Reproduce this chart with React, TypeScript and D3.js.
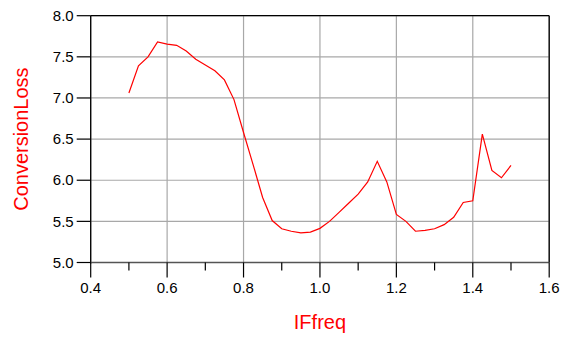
import React from "react";
import * as d3 from "d3";

const ifFreq = [
  0.5, 0.525, 0.55, 0.575, 0.6, 0.625, 0.65, 0.675, 0.7, 0.725, 0.75, 0.775,
  0.8, 0.825, 0.85, 0.875, 0.9, 0.925, 0.95, 0.975, 1.0, 1.025, 1.05, 1.075,
  1.1, 1.125, 1.15, 1.175, 1.2, 1.225, 1.25, 1.275, 1.3, 1.325, 1.35, 1.375,
  1.4, 1.425, 1.45, 1.475, 1.5,
];
const conversionLoss = [
  7.06, 7.39, 7.5, 7.68, 7.655, 7.64, 7.57, 7.47, 7.4, 7.33, 7.22, 6.98,
  6.58, 6.19, 5.79, 5.51, 5.41, 5.38, 5.36, 5.37, 5.415, 5.5, 5.61, 5.72,
  5.83, 5.98, 6.23, 5.98, 5.585, 5.5, 5.38, 5.39, 5.41, 5.46, 5.55, 5.73,
  5.75, 6.56, 6.12, 6.03, 6.18,
];
const xTicks = [0.4, 0.6, 0.8, 1.0, 1.2, 1.4, 1.6];
const xMinorTicks = [0.5, 0.7, 0.9, 1.1, 1.3, 1.5];
const yTicks = [5.0, 5.5, 6.0, 6.5, 7.0, 7.5, 8.0];

export default function App() {
  const left = 90.7, right = 549.2, top = 15.7, bottom = 262.5;
  const x = d3.scaleLinear().domain([0.4, 1.6]).range([left, right]);
  const y = d3.scaleLinear().domain([5, 8]).range([bottom, top]);
  const pts = ifFreq.map((f, i) => [f, conversionLoss[i]] as [number, number]);
  const line = d3.line<[number, number]>().x((d) => x(d[0])).y((d) => y(d[1]));
  const font = "Liberation Sans, Arial, Helvetica, sans-serif";
  return (
    <svg
      width={571}
      height={337}
      style={{ position: "absolute", left: 0, top: 0, background: "#fff" }}
      fontFamily={font}
    >
      {xTicks.map((t) => (
        <line key={"gx" + t} x1={x(t)} x2={x(t)} y1={top} y2={bottom} stroke="#a8a8a8" strokeWidth={1.2} />
      ))}
      {yTicks.map((t) => (
        <line key={"gy" + t} x1={left} x2={right} y1={y(t)} y2={y(t)} stroke="#a8a8a8" strokeWidth={1.2} />
      ))}
      <line x1={left} x2={right} y1={top} y2={top} stroke="#000" strokeWidth={1.3} />
      <line x1={right} x2={right} y1={top} y2={bottom} stroke="#000" strokeWidth={1.3} />
      <line x1={left} x2={left} y1={top} y2={bottom + 1} stroke="#000" strokeWidth={1.3} />
      <line x1={left} x2={right} y1={bottom} y2={bottom} stroke="#555" strokeWidth={1.5} />
      {yTicks.map((t) => (
        <g key={"yt" + t}>
          <line x1={left - 14} x2={left} y1={y(t)} y2={y(t)} stroke="#000" strokeWidth={1.2} />
          <text x={left - 17} y={y(t)} dy="0.35em" textAnchor="end" fontSize={15} fill="#000">
            {t.toFixed(1)}
          </text>
        </g>
      ))}
      {xTicks.map((t) => (
        <g key={"xt" + t}>
          <line x1={x(t)} x2={x(t)} y1={bottom} y2={bottom + 15} stroke="#000" strokeWidth={1.2} />
          <text x={x(t)} y={293} textAnchor="middle" fontSize={15} fill="#000">
            {t.toFixed(1)}
          </text>
        </g>
      ))}
      {xMinorTicks.map((t) => (
        <line key={"xm" + t} x1={x(t)} x2={x(t)} y1={bottom} y2={bottom + 8} stroke="#000" strokeWidth={1.2} />
      ))}
      <path d={line(pts) || ""} fill="none" stroke="#ff0000" strokeWidth={1.2} />
      <text x={(left + right) / 2} y={329} textAnchor="middle" fontSize={20} fill="#ff0000">
        IFfreq
      </text>
      <text
        transform={`translate(27.5,${(top + bottom) / 2}) rotate(-90)`}
        textAnchor="middle"
        fontSize={20}
        fill="#ff0000"
      >
        ConversionLoss
      </text>
    </svg>
  );
}
